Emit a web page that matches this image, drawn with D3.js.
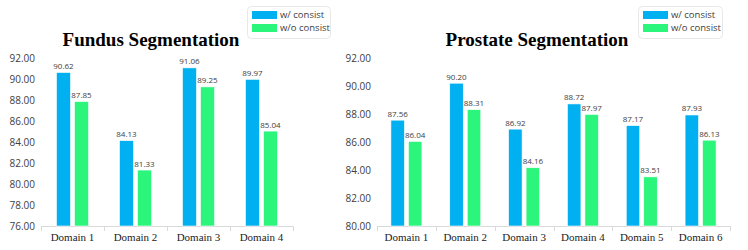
<!DOCTYPE html>
<html>
<head>
<meta charset="utf-8">
<script src="https://cdn.jsdelivr.net/npm/d3@7"></script>
<style>
  html, body { margin: 0; padding: 0; background: #fff; }
  svg { display: block; }
</style>
</head>
<body>
<div id="chart"></div>
<script>
// data
const seriesNames = ['w/ consist', 'w/o consist'];
const colors = ['#00B0F0', '#2CF57C'];

const fundusDomains = ['Domain 1', 'Domain 2', 'Domain 3', 'Domain 4'];
const fundusWith = [90.62, 84.13, 91.06, 89.97];
const fundusWithout = [87.85, 81.33, 89.25, 85.04];
const fundusTicks = [76, 78, 80, 82, 84, 86, 88, 90, 92];

const prostateDomains = ['Domain 1', 'Domain 2', 'Domain 3', 'Domain 4', 'Domain 5', 'Domain 6'];
const prostateWith = [87.56, 90.20, 86.92, 88.72, 87.17, 87.93];
const prostateWithout = [86.04, 88.31, 84.16, 87.97, 83.51, 86.13];
const prostateTicks = [80, 82, 84, 86, 88, 90, 92];

const sans = '"Open Sans", Lato, sans-serif';
const serif = '"Liberation Serif", "Times New Roman", serif';

const svg = d3.select('#chart').append('svg')
  .attr('width', 748)
  .attr('height', 250);

function drawPanel(opt) {
  const g = svg.append('g');
  const x0 = d3.scaleBand().domain(opt.domains).range([opt.left, opt.right]);
  const y = d3.scaleLinear()
    .domain([opt.ticks[0], opt.ticks[opt.ticks.length - 1]])
    .range([opt.bottom, opt.top]);
  const bw = opt.barWidth, gap = 4;

  // y tick labels (no axis line)
  g.selectAll('.ytick').data(opt.ticks).enter().append('text')
    .attr('x', opt.left - 6)
    .attr('y', d => y(d))
    .attr('dy', '0.35em')
    .attr('text-anchor', 'end')
    .attr('font-family', sans)
    .attr('font-size', 10)
    .attr('fill', '#404040')
    .text(d => d.toFixed(2));

  // baseline + category separators
  g.append('line')
    .attr('x1', opt.left).attr('x2', opt.right)
    .attr('y1', opt.bottom + 0.5).attr('y2', opt.bottom + 0.5)
    .attr('stroke', '#d9d9d9');
  const seps = [opt.left].concat(opt.domains.map(d => x0(d) + x0.bandwidth()));
  g.selectAll('.sep').data(seps).enter().append('line')
    .attr('x1', d => Math.round(d) + 0.5).attr('x2', d => Math.round(d) + 0.5)
    .attr('y1', opt.bottom).attr('y2', opt.bottom + 5)
    .attr('stroke', '#d9d9d9');

  // category labels
  g.selectAll('.xlab').data(opt.domains).enter().append('text')
    .attr('x', d => x0(d) + x0.bandwidth() / 2)
    .attr('y', opt.bottom + 15)
    .attr('text-anchor', 'middle')
    .attr('font-family', serif)
    .attr('font-size', 11)
    .attr('fill', '#222')
    .text(d => d);

  // bars
  const series = [opt.withVals, opt.withoutVals];
  series.forEach((vals, si) => {
    const data = opt.domains.map((d, i) => ({ d, v: vals[i] }));
    const xoff = si === 0 ? -gap / 2 - bw : gap / 2;
    g.selectAll('.bar' + si).data(data).enter().append('rect')
      .attr('x', p => x0(p.d) + x0.bandwidth() / 2 + xoff)
      .attr('y', p => y(p.v))
      .attr('width', bw)
      .attr('height', p => opt.bottom - y(p.v))
      .attr('fill', colors[si])
      .attr('stroke', '#fff')
      .attr('stroke-width', 0.6);
    g.selectAll('.val' + si).data(data).enter().append('text')
      .attr('x', p => x0(p.d) + x0.bandwidth() / 2 + xoff + bw / 2)
      .attr('y', p => y(p.v) - 3.5)
      .attr('text-anchor', 'middle')
      .attr('font-family', sans)
      .attr('font-size', 8)
      .attr('fill', '#404040')
      .text(p => p.v.toFixed(2));
  });

  // title
  g.append('text')
    .attr('x', opt.titleX)
    .attr('y', 46)
    .attr('text-anchor', 'middle')
    .attr('font-family', serif)
    .attr('font-weight', 'bold')
    .attr('font-size', 19)
    .attr('fill', '#000')
    .text(opt.title);

  // legend
  const lg = g.append('g').attr('transform', `translate(${opt.legendX},6)`);
  lg.append('rect')
    .attr('x', 0.5).attr('y', 0.5)
    .attr('width', opt.legendW).attr('height', 32)
    .attr('rx', 4)
    .attr('fill', '#fff')
    .attr('stroke', '#e8e8e8');
  seriesNames.forEach((name, i) => {
    lg.append('rect')
      .attr('x', 5).attr('y', 5 + i * 13)
      .attr('width', 25).attr('height', 8)
      .attr('fill', colors[i]);
    lg.append('text')
      .attr('x', 33).attr('y', 9 + i * 13)
      .attr('dy', '0.35em')
      .attr('font-family', sans)
      .attr('font-size', 9.5)
      .attr('fill', '#404040')
      .text(name);
  });
}

drawPanel({
  domains: fundusDomains, withVals: fundusWith, withoutVals: fundusWithout,
  ticks: fundusTicks, left: 41, right: 293, top: 58, bottom: 226,
  barWidth: 14, title: 'Fundus Segmentation', titleX: 151,
  legendX: 247, legendW: 83
});

drawPanel({
  domains: prostateDomains, withVals: prostateWith, withoutVals: prostateWithout,
  ticks: prostateTicks, left: 377, right: 730, top: 58, bottom: 226,
  barWidth: 13.5, title: 'Prostate Segmentation', titleX: 537,
  legendX: 638, legendW: 84
});
</script>
</body>
</html>
